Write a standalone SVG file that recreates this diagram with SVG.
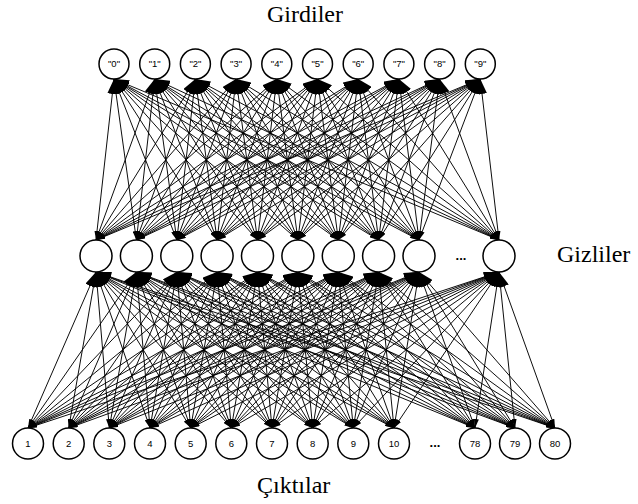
<svg xmlns="http://www.w3.org/2000/svg" width="638" height="504" viewBox="0 0 638 504">
<style>
.c line{stroke:#000;stroke-width:0.95;marker-end:url(#a);marker-start:url(#b)}
.n circle{fill:#fff;stroke:#000;stroke-width:1.5}
.lb{font-family:"Liberation Sans",Arial,sans-serif;font-size:9.5px;text-anchor:middle;fill:#000}
.t{font-family:"Liberation Serif","Times New Roman",serif;font-size:24px;fill:#000}
.d{font-family:"Liberation Sans",Arial,sans-serif;font-size:13px;font-weight:bold;text-anchor:middle}
</style>
<defs>
<marker id="a" viewBox="0 0 10 10" refX="10" refY="5" markerWidth="15" markerHeight="10" markerUnits="userSpaceOnUse" orient="auto" preserveAspectRatio="none"><path d="M0,0L10,5L0,10z" fill="#000"/></marker>
<marker id="b" viewBox="0 0 10 10" refX="10" refY="5" markerWidth="9" markerHeight="5" markerUnits="userSpaceOnUse" orient="auto-start-reverse" preserveAspectRatio="none"><path d="M0,0L10,5L0,10z" fill="#000"/></marker>
</defs>
<g id="connectors" class="c">
<g id="top-layer">
<line x1="96" y1="240" x2="114" y2="79"/><line x1="96" y1="240" x2="154.7" y2="79"/><line x1="96" y1="240" x2="195.4" y2="79"/><line x1="96" y1="240" x2="236.1" y2="79"/><line x1="96" y1="240" x2="276.8" y2="79"/><line x1="96" y1="240" x2="317.5" y2="79"/><line x1="96" y1="240" x2="358.2" y2="79"/><line x1="96" y1="240" x2="398.9" y2="79"/><line x1="96" y1="240" x2="439.6" y2="79"/><line x1="96" y1="240" x2="480.3" y2="79"/>
<line x1="136.4" y1="240" x2="114" y2="79"/><line x1="136.4" y1="240" x2="154.7" y2="79"/><line x1="136.4" y1="240" x2="195.4" y2="79"/><line x1="136.4" y1="240" x2="236.1" y2="79"/><line x1="136.4" y1="240" x2="276.8" y2="79"/><line x1="136.4" y1="240" x2="317.5" y2="79"/><line x1="136.4" y1="240" x2="358.2" y2="79"/><line x1="136.4" y1="240" x2="398.9" y2="79"/><line x1="136.4" y1="240" x2="439.6" y2="79"/><line x1="136.4" y1="240" x2="480.3" y2="79"/>
<line x1="176.8" y1="240" x2="114" y2="79"/><line x1="176.8" y1="240" x2="154.7" y2="79"/><line x1="176.8" y1="240" x2="195.4" y2="79"/><line x1="176.8" y1="240" x2="236.1" y2="79"/><line x1="176.8" y1="240" x2="276.8" y2="79"/><line x1="176.8" y1="240" x2="317.5" y2="79"/><line x1="176.8" y1="240" x2="358.2" y2="79"/><line x1="176.8" y1="240" x2="398.9" y2="79"/><line x1="176.8" y1="240" x2="439.6" y2="79"/><line x1="176.8" y1="240" x2="480.3" y2="79"/>
<line x1="217.1" y1="240" x2="114" y2="79"/><line x1="217.1" y1="240" x2="154.7" y2="79"/><line x1="217.1" y1="240" x2="195.4" y2="79"/><line x1="217.1" y1="240" x2="236.1" y2="79"/><line x1="217.1" y1="240" x2="276.8" y2="79"/><line x1="217.1" y1="240" x2="317.5" y2="79"/><line x1="217.1" y1="240" x2="358.2" y2="79"/><line x1="217.1" y1="240" x2="398.9" y2="79"/><line x1="217.1" y1="240" x2="439.6" y2="79"/><line x1="217.1" y1="240" x2="480.3" y2="79"/>
<line x1="257.5" y1="240" x2="114" y2="79"/><line x1="257.5" y1="240" x2="154.7" y2="79"/><line x1="257.5" y1="240" x2="195.4" y2="79"/><line x1="257.5" y1="240" x2="236.1" y2="79"/><line x1="257.5" y1="240" x2="276.8" y2="79"/><line x1="257.5" y1="240" x2="317.5" y2="79"/><line x1="257.5" y1="240" x2="358.2" y2="79"/><line x1="257.5" y1="240" x2="398.9" y2="79"/><line x1="257.5" y1="240" x2="439.6" y2="79"/><line x1="257.5" y1="240" x2="480.3" y2="79"/>
<line x1="297.9" y1="240" x2="114" y2="79"/><line x1="297.9" y1="240" x2="154.7" y2="79"/><line x1="297.9" y1="240" x2="195.4" y2="79"/><line x1="297.9" y1="240" x2="236.1" y2="79"/><line x1="297.9" y1="240" x2="276.8" y2="79"/><line x1="297.9" y1="240" x2="317.5" y2="79"/><line x1="297.9" y1="240" x2="358.2" y2="79"/><line x1="297.9" y1="240" x2="398.9" y2="79"/><line x1="297.9" y1="240" x2="439.6" y2="79"/><line x1="297.9" y1="240" x2="480.3" y2="79"/>
<line x1="338.3" y1="240" x2="114" y2="79"/><line x1="338.3" y1="240" x2="154.7" y2="79"/><line x1="338.3" y1="240" x2="195.4" y2="79"/><line x1="338.3" y1="240" x2="236.1" y2="79"/><line x1="338.3" y1="240" x2="276.8" y2="79"/><line x1="338.3" y1="240" x2="317.5" y2="79"/><line x1="338.3" y1="240" x2="358.2" y2="79"/><line x1="338.3" y1="240" x2="398.9" y2="79"/><line x1="338.3" y1="240" x2="439.6" y2="79"/><line x1="338.3" y1="240" x2="480.3" y2="79"/>
<line x1="378.6" y1="240" x2="114" y2="79"/><line x1="378.6" y1="240" x2="154.7" y2="79"/><line x1="378.6" y1="240" x2="195.4" y2="79"/><line x1="378.6" y1="240" x2="236.1" y2="79"/><line x1="378.6" y1="240" x2="276.8" y2="79"/><line x1="378.6" y1="240" x2="317.5" y2="79"/><line x1="378.6" y1="240" x2="358.2" y2="79"/><line x1="378.6" y1="240" x2="398.9" y2="79"/><line x1="378.6" y1="240" x2="439.6" y2="79"/><line x1="378.6" y1="240" x2="480.3" y2="79"/>
<line x1="419" y1="240" x2="114" y2="79"/><line x1="419" y1="240" x2="154.7" y2="79"/><line x1="419" y1="240" x2="195.4" y2="79"/><line x1="419" y1="240" x2="236.1" y2="79"/><line x1="419" y1="240" x2="276.8" y2="79"/><line x1="419" y1="240" x2="317.5" y2="79"/><line x1="419" y1="240" x2="358.2" y2="79"/><line x1="419" y1="240" x2="398.9" y2="79"/><line x1="419" y1="240" x2="439.6" y2="79"/><line x1="419" y1="240" x2="480.3" y2="79"/>
<line x1="499" y1="240" x2="114" y2="79"/><line x1="499" y1="240" x2="154.7" y2="79"/><line x1="499" y1="240" x2="195.4" y2="79"/><line x1="499" y1="240" x2="236.1" y2="79"/><line x1="499" y1="240" x2="276.8" y2="79"/><line x1="499" y1="240" x2="317.5" y2="79"/><line x1="499" y1="240" x2="358.2" y2="79"/><line x1="499" y1="240" x2="398.9" y2="79"/><line x1="499" y1="240" x2="439.6" y2="79"/><line x1="499" y1="240" x2="480.3" y2="79"/>
</g>
<g id="bottom-layer">
<line x1="28" y1="428" x2="96" y2="272"/><line x1="28" y1="428" x2="136.4" y2="272"/><line x1="28" y1="428" x2="176.8" y2="272"/><line x1="28" y1="428" x2="217.1" y2="272"/><line x1="28" y1="428" x2="257.5" y2="272"/><line x1="28" y1="428" x2="297.9" y2="272"/><line x1="28" y1="428" x2="338.3" y2="272"/><line x1="28" y1="428" x2="378.6" y2="272"/><line x1="28" y1="428" x2="419" y2="272"/><line x1="28" y1="428" x2="499" y2="272"/>
<line x1="68.7" y1="428" x2="96" y2="272"/><line x1="68.7" y1="428" x2="136.4" y2="272"/><line x1="68.7" y1="428" x2="176.8" y2="272"/><line x1="68.7" y1="428" x2="217.1" y2="272"/><line x1="68.7" y1="428" x2="257.5" y2="272"/><line x1="68.7" y1="428" x2="297.9" y2="272"/><line x1="68.7" y1="428" x2="338.3" y2="272"/><line x1="68.7" y1="428" x2="378.6" y2="272"/><line x1="68.7" y1="428" x2="419" y2="272"/><line x1="68.7" y1="428" x2="499" y2="272"/>
<line x1="109.3" y1="428" x2="96" y2="272"/><line x1="109.3" y1="428" x2="136.4" y2="272"/><line x1="109.3" y1="428" x2="176.8" y2="272"/><line x1="109.3" y1="428" x2="217.1" y2="272"/><line x1="109.3" y1="428" x2="257.5" y2="272"/><line x1="109.3" y1="428" x2="297.9" y2="272"/><line x1="109.3" y1="428" x2="338.3" y2="272"/><line x1="109.3" y1="428" x2="378.6" y2="272"/><line x1="109.3" y1="428" x2="419" y2="272"/><line x1="109.3" y1="428" x2="499" y2="272"/>
<line x1="150" y1="428" x2="96" y2="272"/><line x1="150" y1="428" x2="136.4" y2="272"/><line x1="150" y1="428" x2="176.8" y2="272"/><line x1="150" y1="428" x2="217.1" y2="272"/><line x1="150" y1="428" x2="257.5" y2="272"/><line x1="150" y1="428" x2="297.9" y2="272"/><line x1="150" y1="428" x2="338.3" y2="272"/><line x1="150" y1="428" x2="378.6" y2="272"/><line x1="150" y1="428" x2="419" y2="272"/><line x1="150" y1="428" x2="499" y2="272"/>
<line x1="190.7" y1="428" x2="96" y2="272"/><line x1="190.7" y1="428" x2="136.4" y2="272"/><line x1="190.7" y1="428" x2="176.8" y2="272"/><line x1="190.7" y1="428" x2="217.1" y2="272"/><line x1="190.7" y1="428" x2="257.5" y2="272"/><line x1="190.7" y1="428" x2="297.9" y2="272"/><line x1="190.7" y1="428" x2="338.3" y2="272"/><line x1="190.7" y1="428" x2="378.6" y2="272"/><line x1="190.7" y1="428" x2="419" y2="272"/><line x1="190.7" y1="428" x2="499" y2="272"/>
<line x1="231.3" y1="428" x2="96" y2="272"/><line x1="231.3" y1="428" x2="136.4" y2="272"/><line x1="231.3" y1="428" x2="176.8" y2="272"/><line x1="231.3" y1="428" x2="217.1" y2="272"/><line x1="231.3" y1="428" x2="257.5" y2="272"/><line x1="231.3" y1="428" x2="297.9" y2="272"/><line x1="231.3" y1="428" x2="338.3" y2="272"/><line x1="231.3" y1="428" x2="378.6" y2="272"/><line x1="231.3" y1="428" x2="419" y2="272"/><line x1="231.3" y1="428" x2="499" y2="272"/>
<line x1="272" y1="428" x2="96" y2="272"/><line x1="272" y1="428" x2="136.4" y2="272"/><line x1="272" y1="428" x2="176.8" y2="272"/><line x1="272" y1="428" x2="217.1" y2="272"/><line x1="272" y1="428" x2="257.5" y2="272"/><line x1="272" y1="428" x2="297.9" y2="272"/><line x1="272" y1="428" x2="338.3" y2="272"/><line x1="272" y1="428" x2="378.6" y2="272"/><line x1="272" y1="428" x2="419" y2="272"/><line x1="272" y1="428" x2="499" y2="272"/>
<line x1="312.7" y1="428" x2="96" y2="272"/><line x1="312.7" y1="428" x2="136.4" y2="272"/><line x1="312.7" y1="428" x2="176.8" y2="272"/><line x1="312.7" y1="428" x2="217.1" y2="272"/><line x1="312.7" y1="428" x2="257.5" y2="272"/><line x1="312.7" y1="428" x2="297.9" y2="272"/><line x1="312.7" y1="428" x2="338.3" y2="272"/><line x1="312.7" y1="428" x2="378.6" y2="272"/><line x1="312.7" y1="428" x2="419" y2="272"/><line x1="312.7" y1="428" x2="499" y2="272"/>
<line x1="353.3" y1="428" x2="96" y2="272"/><line x1="353.3" y1="428" x2="136.4" y2="272"/><line x1="353.3" y1="428" x2="176.8" y2="272"/><line x1="353.3" y1="428" x2="217.1" y2="272"/><line x1="353.3" y1="428" x2="257.5" y2="272"/><line x1="353.3" y1="428" x2="297.9" y2="272"/><line x1="353.3" y1="428" x2="338.3" y2="272"/><line x1="353.3" y1="428" x2="378.6" y2="272"/><line x1="353.3" y1="428" x2="419" y2="272"/><line x1="353.3" y1="428" x2="499" y2="272"/>
<line x1="394" y1="428" x2="96" y2="272"/><line x1="394" y1="428" x2="136.4" y2="272"/><line x1="394" y1="428" x2="176.8" y2="272"/><line x1="394" y1="428" x2="217.1" y2="272"/><line x1="394" y1="428" x2="257.5" y2="272"/><line x1="394" y1="428" x2="297.9" y2="272"/><line x1="394" y1="428" x2="338.3" y2="272"/><line x1="394" y1="428" x2="378.6" y2="272"/><line x1="394" y1="428" x2="419" y2="272"/><line x1="394" y1="428" x2="499" y2="272"/>
<line x1="475" y1="428" x2="96" y2="272"/><line x1="475" y1="428" x2="136.4" y2="272"/><line x1="475" y1="428" x2="176.8" y2="272"/><line x1="475" y1="428" x2="217.1" y2="272"/><line x1="475" y1="428" x2="257.5" y2="272"/><line x1="475" y1="428" x2="297.9" y2="272"/><line x1="475" y1="428" x2="338.3" y2="272"/><line x1="475" y1="428" x2="378.6" y2="272"/><line x1="475" y1="428" x2="419" y2="272"/><line x1="475" y1="428" x2="499" y2="272"/>
<line x1="515" y1="428" x2="96" y2="272"/><line x1="515" y1="428" x2="136.4" y2="272"/><line x1="515" y1="428" x2="176.8" y2="272"/><line x1="515" y1="428" x2="217.1" y2="272"/><line x1="515" y1="428" x2="257.5" y2="272"/><line x1="515" y1="428" x2="297.9" y2="272"/><line x1="515" y1="428" x2="338.3" y2="272"/><line x1="515" y1="428" x2="378.6" y2="272"/><line x1="515" y1="428" x2="419" y2="272"/><line x1="515" y1="428" x2="499" y2="272"/>
<line x1="555" y1="428" x2="96" y2="272"/><line x1="555" y1="428" x2="136.4" y2="272"/><line x1="555" y1="428" x2="176.8" y2="272"/><line x1="555" y1="428" x2="217.1" y2="272"/><line x1="555" y1="428" x2="257.5" y2="272"/><line x1="555" y1="428" x2="297.9" y2="272"/><line x1="555" y1="428" x2="338.3" y2="272"/><line x1="555" y1="428" x2="378.6" y2="272"/><line x1="555" y1="428" x2="419" y2="272"/><line x1="555" y1="428" x2="499" y2="272"/>
</g>
</g>
<g class="n">
<g id="in0"><circle cx="114" cy="64" r="15"/><text class="lb" x="114" y="67">"0"</text></g>
<g id="in1"><circle cx="154.7" cy="64" r="15"/><text class="lb" x="154.7" y="67">"1"</text></g>
<g id="in2"><circle cx="195.4" cy="64" r="15"/><text class="lb" x="195.4" y="67">"2"</text></g>
<g id="in3"><circle cx="236.1" cy="64" r="15"/><text class="lb" x="236.1" y="67">"3"</text></g>
<g id="in4"><circle cx="276.8" cy="64" r="15"/><text class="lb" x="276.8" y="67">"4"</text></g>
<g id="in5"><circle cx="317.5" cy="64" r="15"/><text class="lb" x="317.5" y="67">"5"</text></g>
<g id="in6"><circle cx="358.2" cy="64" r="15"/><text class="lb" x="358.2" y="67">"6"</text></g>
<g id="in7"><circle cx="398.9" cy="64" r="15"/><text class="lb" x="398.9" y="67">"7"</text></g>
<g id="in8"><circle cx="439.6" cy="64" r="15"/><text class="lb" x="439.6" y="67">"8"</text></g>
<g id="in9"><circle cx="480.3" cy="64" r="15"/><text class="lb" x="480.3" y="67">"9"</text></g>
<g id="h1"><circle cx="96" cy="256" r="16"/></g>
<g id="h2"><circle cx="136.4" cy="256" r="16"/></g>
<g id="h3"><circle cx="176.8" cy="256" r="16"/></g>
<g id="h4"><circle cx="217.1" cy="256" r="16"/></g>
<g id="h5"><circle cx="257.5" cy="256" r="16"/></g>
<g id="h6"><circle cx="297.9" cy="256" r="16"/></g>
<g id="h7"><circle cx="338.3" cy="256" r="16"/></g>
<g id="h8"><circle cx="378.6" cy="256" r="16"/></g>
<g id="h9"><circle cx="419" cy="256" r="16"/></g>
<g id="h-dots"><text class="d" x="461" y="260">...</text></g>
<g id="h10"><circle cx="499" cy="256" r="16"/></g>
<g id="o1"><circle cx="28" cy="443.5" r="15.5"/><text class="lb" x="28" y="447">1</text></g>
<g id="o2"><circle cx="68.7" cy="443.5" r="15.5"/><text class="lb" x="68.7" y="447">2</text></g>
<g id="o3"><circle cx="109.3" cy="443.5" r="15.5"/><text class="lb" x="109.3" y="447">3</text></g>
<g id="o4"><circle cx="150" cy="443.5" r="15.5"/><text class="lb" x="150" y="447">4</text></g>
<g id="o5"><circle cx="190.7" cy="443.5" r="15.5"/><text class="lb" x="190.7" y="447">5</text></g>
<g id="o6"><circle cx="231.3" cy="443.5" r="15.5"/><text class="lb" x="231.3" y="447">6</text></g>
<g id="o7"><circle cx="272" cy="443.5" r="15.5"/><text class="lb" x="272" y="447">7</text></g>
<g id="o8"><circle cx="312.7" cy="443.5" r="15.5"/><text class="lb" x="312.7" y="447">8</text></g>
<g id="o9"><circle cx="353.3" cy="443.5" r="15.5"/><text class="lb" x="353.3" y="447">9</text></g>
<g id="o10"><circle cx="394" cy="443.5" r="15.5"/><text class="lb" x="394" y="447">10</text></g>
<g id="o-dots"><text class="d" x="435" y="447">...</text></g>
<g id="o78"><circle cx="475" cy="443.5" r="15.5"/><text class="lb" x="475" y="447">78</text></g>
<g id="o79"><circle cx="515" cy="443.5" r="15.5"/><text class="lb" x="515" y="447">79</text></g>
<g id="o80"><circle cx="555" cy="443.5" r="15.5"/><text class="lb" x="555" y="447">80</text></g>
</g>
<g id="titles">
<text class="t" x="267" y="22">Girdiler</text>
<text class="t" x="557" y="262">Gizliler</text>
<text class="t" x="257" y="493">Çıktılar</text>
</g>
</svg>
